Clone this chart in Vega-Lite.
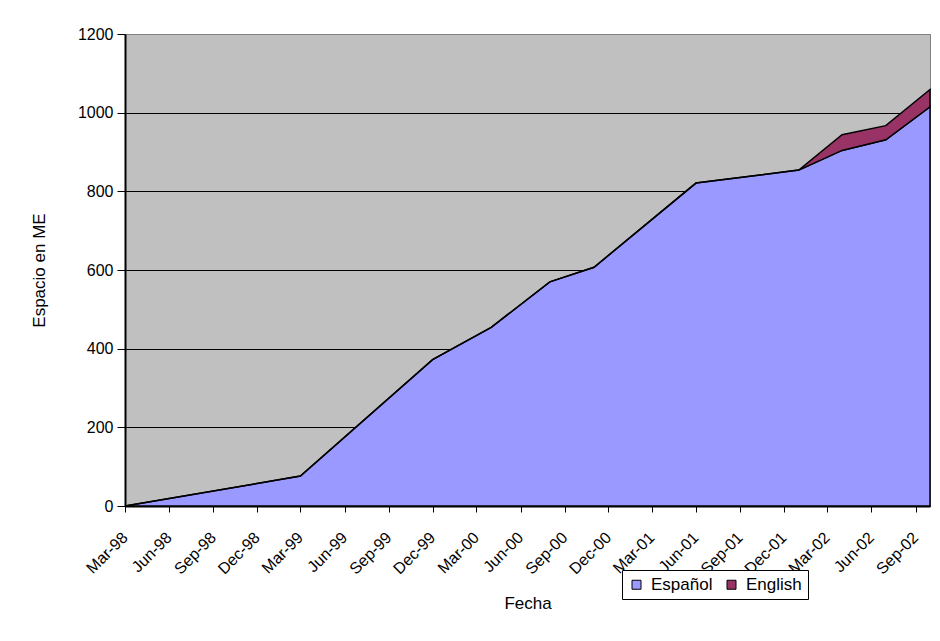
{
  "$schema": "https://vega.github.io/schema/vega-lite/v6.json",
  "width": 805,
  "height": 472,
  "autosize": {"type": "none"},
  "padding": {"left": 125, "top": 34, "right": 10, "bottom": 135},
  "background": "white",
  "config": {
    "font": "Liberation Sans",
    "view": {"fill": "#C0C0C0", "stroke": "#808080", "strokeWidth": 1},
    "axis": {
      "labelColor": "black",
      "titleColor": "black",
      "labelFont": "Liberation Sans",
      "titleFont": "Liberation Sans",
      "labelFontSize": 16,
      "titleFontSize": 17,
      "titleFontWeight": "normal",
      "domainColor": "black",
      "tickColor": "black"
    },
    "legend": {
      "labelFont": "Liberation Sans",
      "labelFontSize": 17,
      "labelColor": "black"
    }
  },
  "data": {
    "values": [
      {"fecha": "1998-03-01", "idioma": "Español", "espacio": 0},
      {"fecha": "1999-03-01", "idioma": "Español", "espacio": 76},
      {"fecha": "1999-12-01", "idioma": "Español", "espacio": 372},
      {"fecha": "2000-04-01", "idioma": "Español", "espacio": 454},
      {"fecha": "2000-08-01", "idioma": "Español", "espacio": 570},
      {"fecha": "2000-11-01", "idioma": "Español", "espacio": 607},
      {"fecha": "2001-06-01", "idioma": "Español", "espacio": 821},
      {"fecha": "2002-01-01", "idioma": "Español", "espacio": 854},
      {"fecha": "2002-04-01", "idioma": "Español", "espacio": 904},
      {"fecha": "2002-07-01", "idioma": "Español", "espacio": 931},
      {"fecha": "2002-10-01", "idioma": "Español", "espacio": 1015},
      {"fecha": "2002-01-01", "idioma": "English", "espacio": 0},
      {"fecha": "2002-04-01", "idioma": "English", "espacio": 40},
      {"fecha": "2002-07-01", "idioma": "English", "espacio": 36},
      {"fecha": "2002-10-01", "idioma": "English", "espacio": 44}
    ]
  },
  "mark": {"type": "area", "stroke": "black", "strokeWidth": 1.5, "opacity": 1, "strokeJoin": "miter"},
  "encoding": {
    "x": {
      "field": "fecha",
      "type": "temporal",
      "scale": {
        "type": "utc",
        "nice": false,
        "domain": [
          {"year": 1998, "month": 3, "date": 1, "utc": true},
          {"year": 2002, "month": 10, "date": 1, "utc": true}
        ]
      },
      "axis": {
        "title": "Fecha",
        "labelExpr": "utcFormat(datum.value, '%b-%y')",
        "values": [
          {"year": 1998, "month": 3, "date": 1, "utc": true},
          {"year": 1998, "month": 6, "date": 1, "utc": true},
          {"year": 1998, "month": 9, "date": 1, "utc": true},
          {"year": 1998, "month": 12, "date": 1, "utc": true},
          {"year": 1999, "month": 3, "date": 1, "utc": true},
          {"year": 1999, "month": 6, "date": 1, "utc": true},
          {"year": 1999, "month": 9, "date": 1, "utc": true},
          {"year": 1999, "month": 12, "date": 1, "utc": true},
          {"year": 2000, "month": 3, "date": 1, "utc": true},
          {"year": 2000, "month": 6, "date": 1, "utc": true},
          {"year": 2000, "month": 9, "date": 1, "utc": true},
          {"year": 2000, "month": 12, "date": 1, "utc": true},
          {"year": 2001, "month": 3, "date": 1, "utc": true},
          {"year": 2001, "month": 6, "date": 1, "utc": true},
          {"year": 2001, "month": 9, "date": 1, "utc": true},
          {"year": 2001, "month": 12, "date": 1, "utc": true},
          {"year": 2002, "month": 3, "date": 1, "utc": true},
          {"year": 2002, "month": 6, "date": 1, "utc": true},
          {"year": 2002, "month": 9, "date": 1, "utc": true}
        ],
        "labelAngle": -45,
        "labelAlign": "right",
        "labelBaseline": "top",
        "labelPadding": 17,
        "labelOffset": -6,
        "labelOverlap": false,
        "labelFlush": false,
        "tickSize": 6,
        "domainWidth": 2,
        "grid": false,
        "titleBaseline": "middle",
        "titleY": 97
      }
    },
    "y": {
      "field": "espacio",
      "type": "quantitative",
      "stack": "zero",
      "scale": {"domain": [0, 1200], "nice": false},
      "axis": {
        "title": "Espacio en ME",
        "values": [0, 200, 400, 600, 800, 1000, 1200],
        "format": "d",
        "tickSize": 8,
        "labelPadding": 4,
        "domainWidth": 2,
        "grid": true,
        "gridColor": {"condition": {"test": "datum.value === 1200", "value": "#808080"}, "value": "black"},
        "gridWidth": 1,
        "gridOpacity": 1,
        "titleBaseline": "middle",
        "titleX": -86
      }
    },
    "color": {
      "field": "idioma",
      "type": "nominal",
      "scale": {"domain": ["Español", "English"], "range": ["#9999FF", "#993366"]},
      "legend": {
        "title": null,
        "orient": "none",
        "legendX": 497,
        "legendY": 536,
        "direction": "horizontal",
        "fillColor": "white",
        "strokeColor": "black",
        "padding": 6,
        "symbolType": "square",
        "symbolSize": 81,
        "symbolStrokeColor": "black",
        "symbolStrokeWidth": 1,
        "symbolOpacity": 1,
        "labelOffset": 6,
        "columnPadding": 10
      }
    },
    "order": {"field": "idioma", "sort": "descending"}
  }
}
